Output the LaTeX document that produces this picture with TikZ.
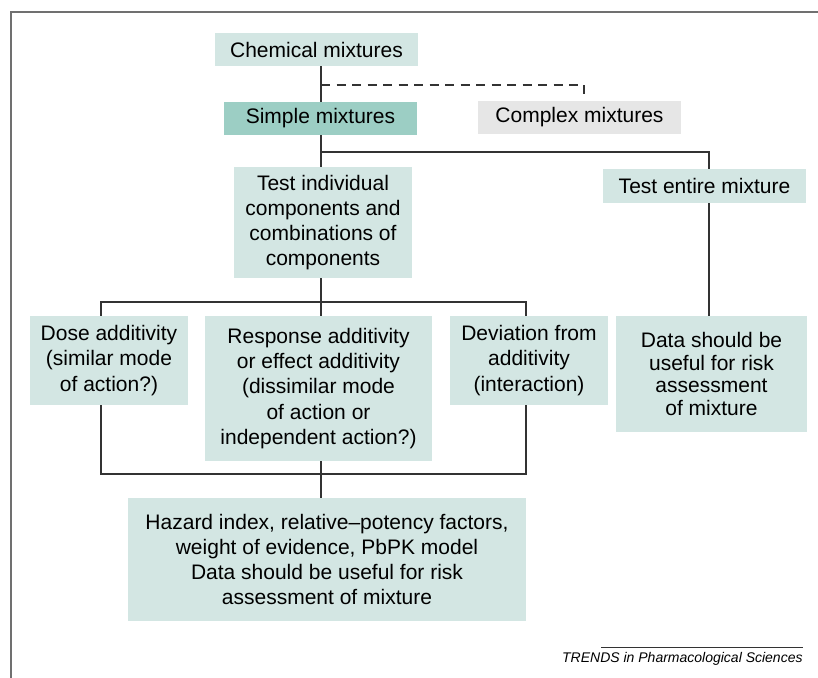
\documentclass[tikz,border=0pt]{standalone}
\usepackage{fontspec}
\setmainfont{Liberation Sans}
\definecolor{palebox}{HTML}{D3E6E3}
\definecolor{tealbox}{HTML}{9CCEC4}
\definecolor{greybox}{HTML}{E6E6E6}
\definecolor{linkgrey}{HTML}{333333}
\definecolor{framegrey}{HTML}{707070}
\begin{document}
\begin{tikzpicture}[x=0.5pt,y=-0.5pt,
    box/.style={fill=palebox, inner sep=0pt, align=center,
        font=\fontsize{10.5}{12.6}\selectfont},
    wh/.style 2 args={minimum width=#1*0.5pt, minimum height=#2*0.5pt},
    link/.style={draw=linkgrey, line width=0.7pt}]
        \useasboundingbox (0,0) rectangle (818,678) ;
        \draw[framegrey, line width=1pt] (11,678) -- (11,12) -- (818,12) ;

        % boxes
        \node[box, wh={203}{33}] (chem) at (316.5,49.5) {Chemical mixtures} ;
        \node[box, wh={193}{33}, fill=tealbox] (simple) at (320.5,118.5) {Simple mixtures} ;
        \node[box, wh={203}{33}, fill=greybox] (complex) at (579.5,117.5) {Complex mixtures} ;
        \node[box, wh={178}{111}] (testind) at (323,222.5) {Test individual\\components and\\combinations of\\components} ;
        \node[box, wh={203}{34}] (testent) at (704.5,186) {Test entire mixture} ;
        \node[box, wh={191}{116}, font=\fontsize{10.5}{11.4}\selectfont] (datar) at (711.5,374) {Data should be\\useful for risk\\assessment\\of mixture} ;
        \node[box, wh={158}{89}] (dose) at (109,360.5) {Dose additivity\\(similar mode\\of action?)} ;
        \node[box, wh={227}{145}] (resp) at (318.5,388.5) {Response additivity\\or effect additivity\\(dissimilar mode\\of action or\\independent action?)} ;
        \node[box, wh={158}{89}] (dev) at (529,360.5) {Deviation from\\additivity\\(interaction)} ;
        \node[box, wh={398}{123}] (hazard) at (327,559.5) {Hazard index, relative--potency factors,\\weight of evidence, PbPK model\\Data should be useful for risk\\assessment of mixture} ;

        % joints
        \coordinate (trunk) at (321,85) ;
        \coordinate (split) at (321,152) ;
        \coordinate (branch) at (709,152) ;
        \coordinate (fork) at (321,302) ;
        \coordinate (join) at (321,474) ;
        \coordinate (lft) at (101,302) ;
        \coordinate (rgt) at (526,302) ;

        % connectors
        \draw[link] (chem.south -| trunk) -- (simple.north -| trunk) ;
        \draw[link, dashed, dash pattern=on 4.5pt off 3.25pt] (trunk) -| ([xshift=2.25pt]complex.north) ;
        \draw[link] (simple.south -| split) -- (testind.north -| split) ;
        \draw[link] (split) -- (branch) -- (branch |- testent.north) ;
        \draw[link] (branch |- testent.south) -- (branch |- datar.north) ;
        \draw[link] (testind.south -| fork) -- (fork) ;
        \draw[link] (lft |- dose.north) -- (lft) -- (rgt) -- (rgt |- dev.north) ;
        \draw[link] (fork) -- (resp.north -| fork) ;
        \draw[link] (lft |- dose.south) -- (lft |- join) -- (rgt |- join) -- (rgt |- dev.south) ;
        \draw[link] (resp.south -| join) -- (join) -- (hazard.north -| join) ;

        % source line
        \coordinate (srcl) at (601,647) ;
        \coordinate (srcr) at (803,647) ;
        \draw[linkgrey, line width=0.5pt] (srcl) -- (srcr) ;
        \node[anchor=north east, inner sep=0pt, font=\fontsize{7}{8}\selectfont\itshape] (source) at ([yshift=-2.5pt]srcr) {TRENDS in Pharmacological Sciences} ;
\end{tikzpicture}
\end{document}
